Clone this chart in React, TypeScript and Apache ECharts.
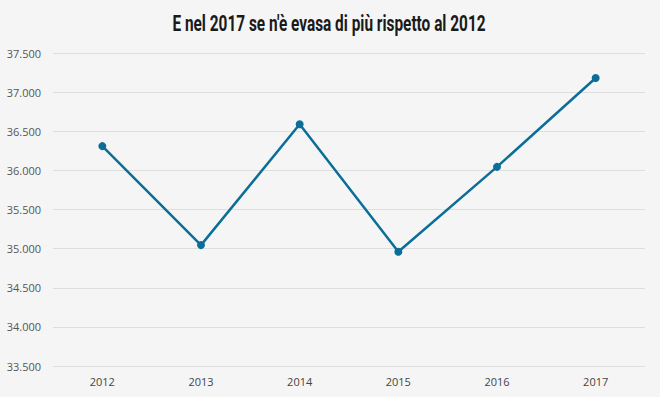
import React, { useEffect, useRef } from "react";
import * as echarts from "echarts";

const years = ["2012", "2013", "2014", "2015", "2016", "2017"];
const values = [36310, 35045, 36590, 34960, 36045, 37180];
const title = "E nel 2017 se n'è evasa di più rispetto al 2012";

function fmt(v: number): string {
  const s = String(Math.round(v));
  return s.replace(/\B(?=(\d{3})+(?!\d))/g, ".");
}

export default function App() {
  const ref = useRef<HTMLDivElement>(null);
  useEffect(() => {
    document.body.style.margin = "0";
    const chart = echarts.init(ref.current!, null, { renderer: "svg" });
    chart.setOption({
      animation: false,
      backgroundColor: "#f5f5f5",
      graphic: [
        {
          type: "text",
          x: 329,
          y: 23,
          scaleX: 0.7,
          scaleY: 1,
          style: {
            text: title,
            align: "center",
            verticalAlign: "middle",
            fontFamily: "Roboto, sans-serif",
            fontWeight: "bold",
            fontSize: 22,
            fill: "#1a1a1a",
          },
        },
      ],
      grid: { left: 53, right: 15, top: 53, bottom: 31 },
      xAxis: {
        type: "category",
        data: years,
        boundaryGap: true,
        axisLine: { show: false },
        axisTick: { show: false },
        axisLabel: { color: "#444", fontSize: 11, margin: 10, fontFamily: "'Open Sans', sans-serif" },
      },
      yAxis: {
        type: "value",
        min: 33500,
        max: 37500,
        interval: 500,
        axisLine: { show: false },
        axisTick: { show: false },
        splitLine: { lineStyle: { color: "#dedede", width: 1 } },
        axisLabel: {
          color: "#555",
          fontSize: 11,
          margin: 12,
          fontFamily: "'Open Sans', sans-serif",
          formatter: (v: number) => fmt(v),
        },
      },
      series: [
        {
          type: "line",
          data: values,
          symbol: "circle",
          symbolSize: 8,
          lineStyle: { color: "#0b6e98", width: 2.5 },
          itemStyle: { color: "#0b6e98" },
        },
      ],
    });
    return () => chart.dispose();
  }, []);
  return <div ref={ref} style={{ width: 660, height: 397 }} />;
}
